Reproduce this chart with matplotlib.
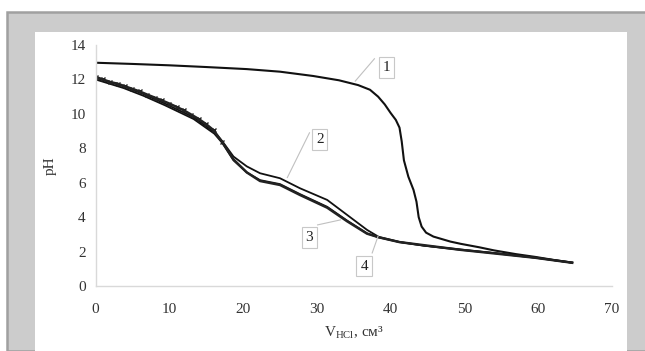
import numpy as np
import matplotlib.pyplot as plt
from matplotlib.patches import Rectangle

# titration curves, pH vs volume of HCl (cm3)
v1 = [0, 5, 10, 15, 20.5, 25, 29.5, 33, 35.6, 37.2, 38.3, 39.2, 40.0, 40.7, 41.2, 41.5, 41.8, 42.4, 43.1, 43.5, 43.8, 44.2, 44.8, 45.8, 48.1, 49.5, 52, 54, 57, 59.6, 62, 64.6]
ph1 = [12.97, 12.9, 12.82, 12.72, 12.6, 12.45, 12.2, 11.95, 11.67, 11.4, 11.0, 10.55, 10.05, 9.65, 9.2, 8.4, 7.3, 6.35, 5.58, 4.9, 4.0, 3.45, 3.1, 2.87, 2.58, 2.45, 2.25, 2.07, 1.85, 1.69, 1.52, 1.36]

v2 = [0, 3.8, 6.5, 9.4, 13.3, 16.1, 17.2, 18.7, 20.5, 22.3, 25.0, 27.7, 31.4, 34.1, 36.8, 38.4, 41.2, 44.5, 49.5, 54, 59.6, 64.6]
ph2 = [12.1, 11.6, 11.15, 10.6, 9.8, 8.95, 8.4, 7.52, 6.95, 6.55, 6.26, 5.68, 5.0, 4.13, 3.26, 2.85, 2.56, 2.35, 2.12, 1.92, 1.65, 1.36]

v3 = [0, 3.8, 6.5, 9.4, 13.3, 16.1, 17.2, 18.7, 20.5, 22.3, 25.0, 27.7, 31.4, 34.1, 36.8, 38.4, 41.2, 44.5, 49.5, 54, 59.6, 64.6]
ph3 = [12.0, 11.5, 11.05, 10.5, 9.7, 8.85, 8.3, 7.3, 6.6, 6.15, 5.92, 5.34, 4.6, 3.8, 3.06, 2.82, 2.55, 2.34, 2.1, 1.91, 1.64, 1.35]

v4 = [0, 1, 2, 3, 4, 5, 6, 7, 8, 9, 10, 11, 12, 13, 14, 15, 16, 17.2, 18.7, 20.5, 22.3, 25.0, 27.7, 31.4, 34.1, 36.8, 38.4, 41.2, 49.5, 59.6, 64.6]
ph4 = [12.15, 12.0, 11.85, 11.75, 11.6, 11.45, 11.3, 11.12, 10.95, 10.78, 10.6, 10.4, 10.2, 9.95, 9.7, 9.4, 9.05, 8.35, 7.35, 6.6, 6.1, 5.87, 5.29, 4.55, 3.76, 3.04, 2.83, 2.55, 2.1, 1.64, 1.35]

labels = ['1', '2', '3', '4']
label_xy = [(39.4, 12.7), (30.4, 8.5), (29.0, 2.8), (36.4, 1.16)]
leader_from = [(37.8, 13.2), (29.0, 8.9), (30.1, 3.55), (37.5, 1.92)]
leader_to = [(35.2, 11.9), (26.0, 6.3), (33.2, 3.84), (38.3, 2.9)]

plt.rcParams['font.family'] = ['Liberation Serif', 'DejaVu Serif']
plt.rcParams['mathtext.fontset'] = 'custom'
plt.rcParams['mathtext.rm'] = 'Liberation Serif'

fig = plt.figure(figsize=(6.45, 3.51), dpi=100, facecolor='white')
W, H = 645.0, 351.0

# grey frame and white plot panel, kept behind the axes
fig.patches.append(Rectangle((7 / W, 0), 1, 1 - 12 / H, transform=fig.transFigure,
                             facecolor='#cccccc', edgecolor='#a0a0a0', linewidth=1.8, zorder=-2))
fig.patches.append(Rectangle((35 / W, 0), (627 - 35) / W, 1 - 32 / H, transform=fig.transFigure,
                             facecolor='white', edgecolor='none', zorder=-1))

ax = fig.add_axes([95.5 / W, 1 - 286 / H, (612 - 95.5) / W, (286 - 45) / H])
ax.patch.set_alpha(0)

ax.plot(v1, ph1, color='#111111', lw=1.5)
ax.plot(v2, ph2, color='#111111', lw=1.3)
ax.plot(v3, ph3, color='#111111', lw=1.3)
ax.plot(v4, ph4, color='#222222', lw=1.8, marker='x', markersize=3, markevery=slice(0, 18))

for t, (lx, ly), (fx, fy), (tx, ty) in zip(labels, label_xy, leader_from, leader_to):
    ax.plot([fx, tx], [fy, ty], color='#c0c0c0', lw=0.8)
    ax.text(lx, ly, t, ha='center', va='center', fontsize=11, color='#222222',
            bbox=dict(boxstyle='square,pad=0.25', facecolor='white', edgecolor='#c8c8c8', lw=0.8))

ax.set_xlim(0, 70)
ax.set_ylim(0, 14)
ax.set_xticks(range(0, 71, 10))
ax.set_yticks(range(0, 15, 2))
for s in ['top', 'right']:
    ax.spines[s].set_visible(False)
for s in ['left', 'bottom']:
    ax.spines[s].set_color('#d9d9d9')
    ax.spines[s].set_linewidth(1.0)
ax.tick_params(axis='both', length=0, labelsize=11, labelcolor='#333333')
ax.tick_params(axis='x', pad=12)
ax.tick_params(axis='y', pad=7)

ax.set_ylabel('pH', fontsize=11, color='#333333', labelpad=10)
ax.set_xlabel(r'V$_{\mathregular{HCl}}$, см³', fontsize=11, color='#333333', labelpad=6)

fig.savefig('out.png', dpi=100)
